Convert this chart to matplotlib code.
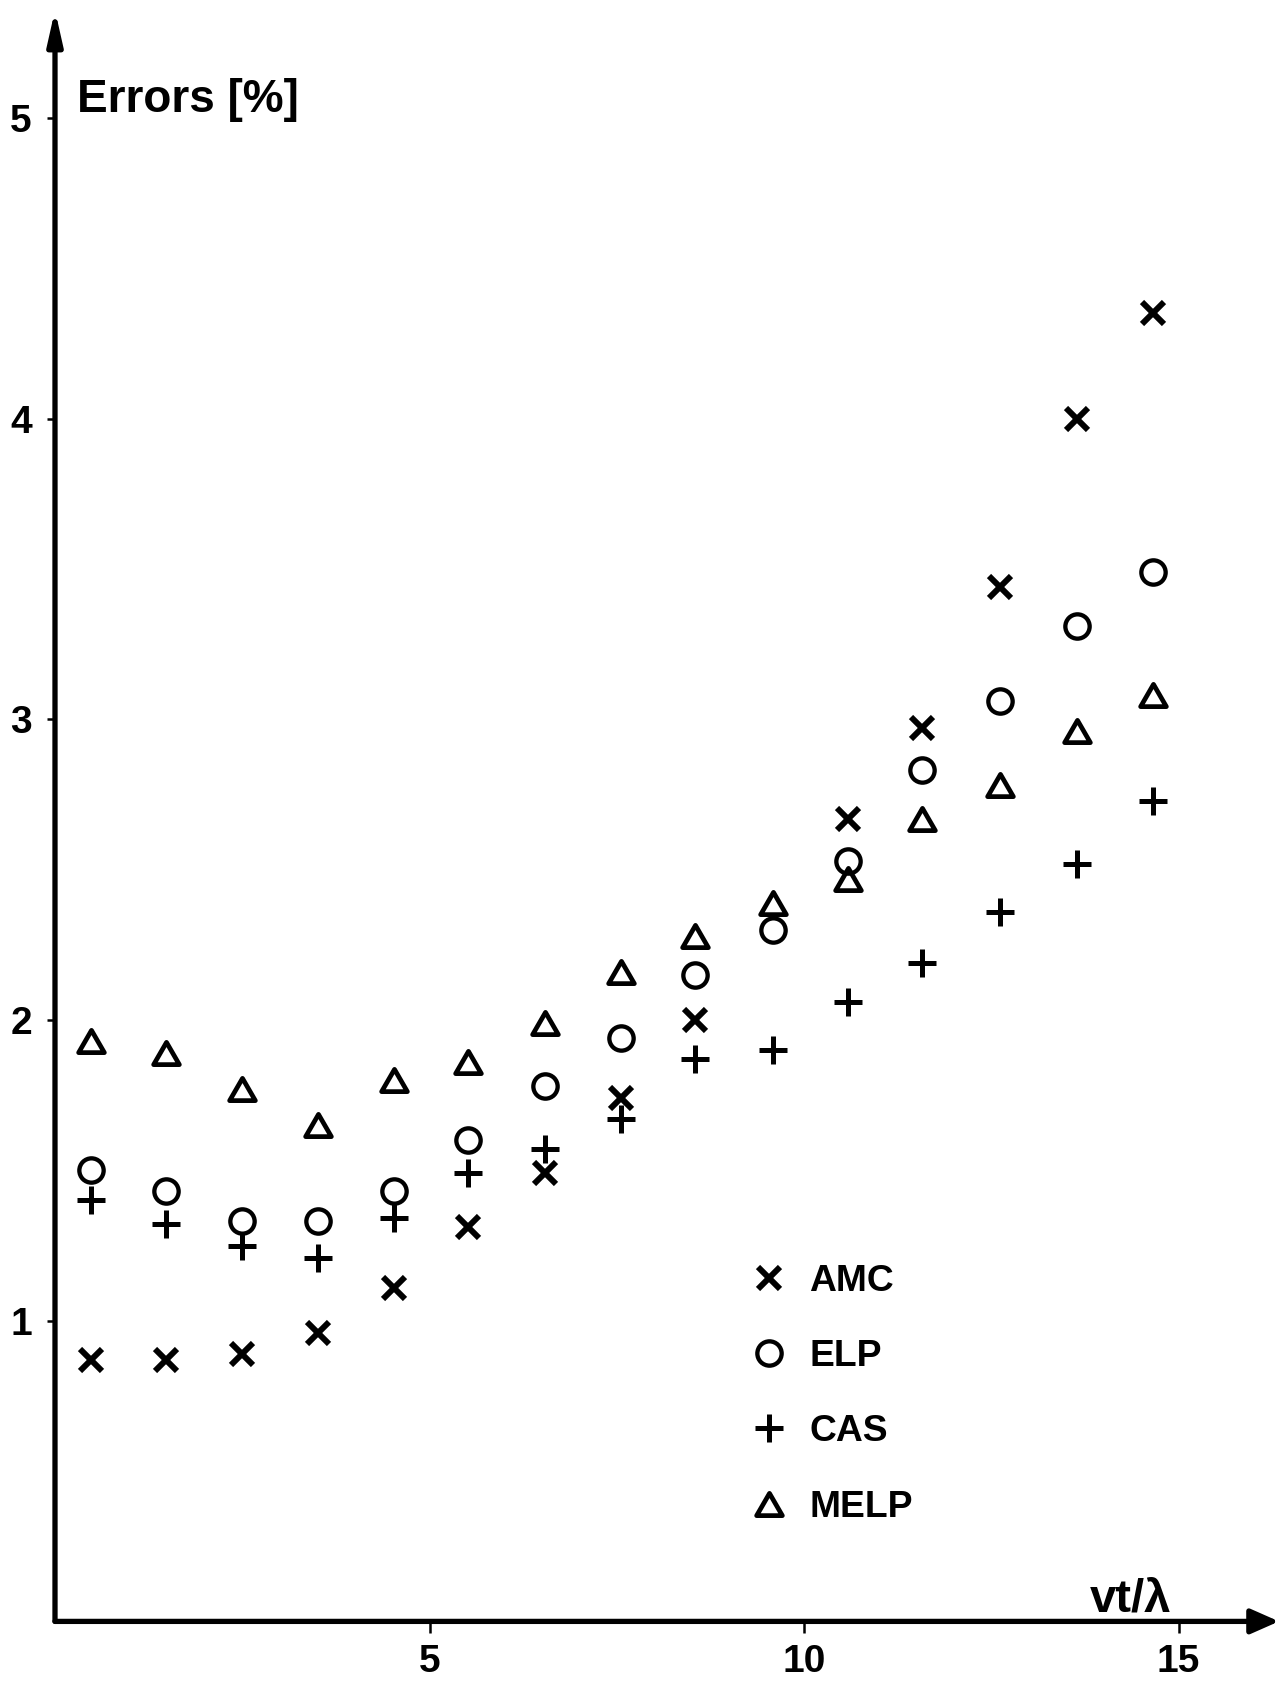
import numpy as np
import matplotlib
matplotlib.use("Agg")
import matplotlib.pyplot as plt
from matplotlib.path import Path

plt.rcParams['font.family'] = ['Liberation Sans', 'DejaVu Sans']
plt.rcParams['font.weight'] = 'bold'

# values (x = vt/lambda, y = error in %)
x_vals = [0.48, 1.48, 2.50, 3.51, 4.53, 5.52, 6.54, 7.56, 8.54, 9.59,
          10.59, 11.57, 12.62, 13.64, 14.66]
# AMC point at ~9.6 is not visible in the original (hidden / missing)
amc = [0.87, 0.87, 0.89, 0.96, 1.11, 1.31, 1.49, 1.74, 2.00, np.nan,
       2.67, 2.97, 3.44, 4.00, 4.35]
elp = [1.50, 1.43, 1.33, 1.33, 1.43, 1.60, 1.78, 1.94, 2.15, 2.30,
       2.53, 2.83, 3.06, 3.31, 3.49]
cas = [1.40, 1.32, 1.25, 1.21, 1.34, 1.49, 1.57, 1.67, 1.87, 1.90,
       2.06, 2.19, 2.36, 2.52, 2.73]
melp = [1.93, 1.89, 1.77, 1.65, 1.80, 1.86, 1.99, 2.16, 2.28, 2.39,
        2.47, 2.67, 2.78, 2.96, 3.08]

x_ticks = [5, 10, 15]
y_ticks = [1, 2, 3, 4, 5]

W, H = 1284, 1686
fig = plt.figure(figsize=(W / 100, H / 100), dpi=100)
# axes origin sits at pixel (55, 1621) of the original
ax = fig.add_axes([55 / W, 64.6 / H, 1224 / W, 1611.4 / H])
ax.set_xlim(0, 16.34)
ax.set_ylim(0, 5.359)
for s in ax.spines.values():
    s.set_visible(False)

# axes drawn as arrows
ax.annotate("", xy=(0, 1), xytext=(0, 0), xycoords="axes fraction",
            arrowprops=dict(arrowstyle="-|>,head_length=20,head_width=4.5",
                            mutation_scale=1, lw=3.8, color="black",
                            shrinkA=0, shrinkB=0))
ax.annotate("", xy=(1, 0), xytext=(0, 0), xycoords="axes fraction",
            arrowprops=dict(arrowstyle="-|>,head_length=17,head_width=7.5",
                            mutation_scale=1, lw=3.8, color="black",
                            shrinkA=0, shrinkB=0))

ax.set_xticks(x_ticks)
ax.set_yticks(y_ticks)
ax.tick_params(axis="x", direction="out", length=8.6, width=1.8, pad=8, labelsize=28)
ax.tick_params(axis="y", direction="out", length=5.8, width=1.8, pad=10.8, labelsize=28)

# equilateral open triangle marker
tri = Path([(-1, -0.866), (1, -0.866), (0, 0.866), (0, 0)],
           [Path.MOVETO, Path.LINETO, Path.LINETO, Path.CLOSEPOLY])

ax.plot(x_vals, amc, ls="none", marker="x", ms=15.5, mew=4.3, color="black", label="AMC")
ax.plot(x_vals, elp, ls="none", marker="o", ms=17.5, mew=3.1, mfc="none", color="black", label="ELP")
ax.plot(x_vals, cas, ls="none", marker="+", ms=19.5, mew=3.6, color="black", label="CAS")
ax.plot(x_vals, melp, ls="none", marker=tri, ms=18.5, mew=3.4, mfc="none", color="black", label="MELP")

ax.legend(loc="upper left", bbox_to_anchor=(750 / W, 1 - 1264 / H),
          bbox_transform=fig.transFigure, frameon=False, fontsize=26.8,
          numpoints=1, handlelength=1.0, handletextpad=0.6,
          labelspacing=1.08, borderpad=0, borderaxespad=0)

fig.text(77 / W, 1 - 100 / H, "Errors [%]", fontsize=33, va="center", ha="left")
fig.text(1131 / W, 1 - 1611 / H, "vt/λ", fontsize=34, va="baseline", ha="center")

fig.savefig("out.png", dpi=100, facecolor="white")
